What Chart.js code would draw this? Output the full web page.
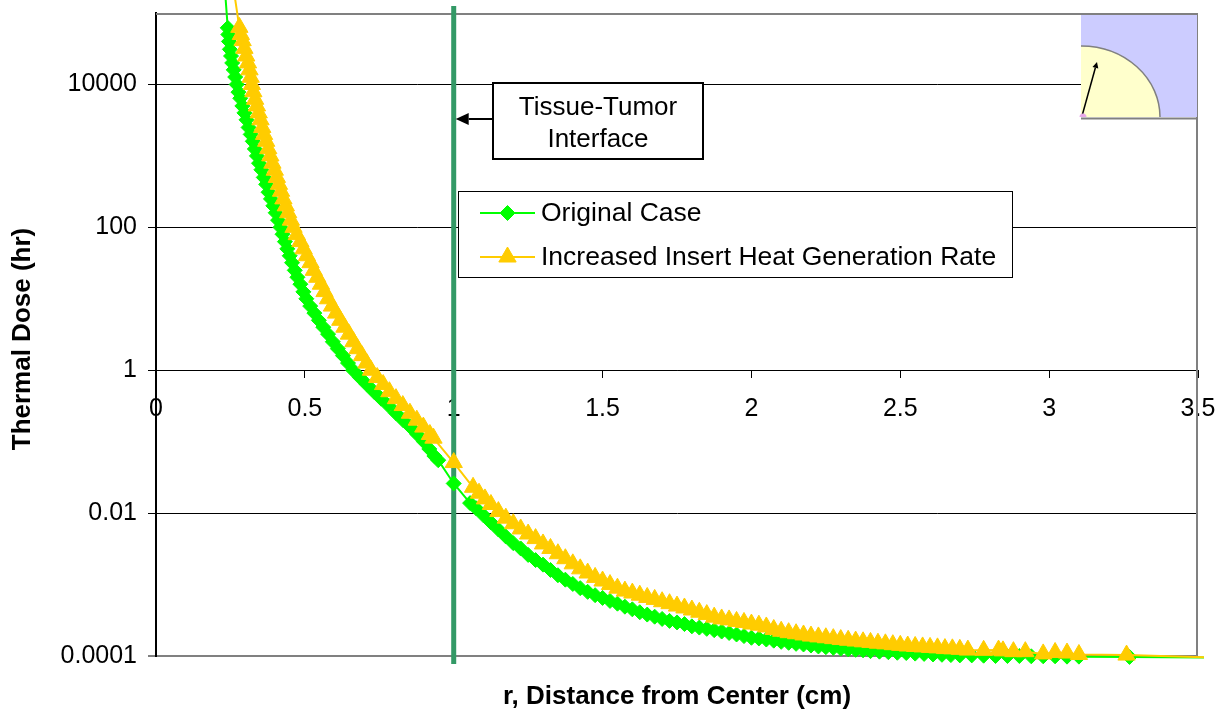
<!DOCTYPE html>
<html>
<head>
<meta charset="utf-8">
<title>Thermal Dose vs. Distance from Center</title>
<script src="https://cdn.jsdelivr.net/npm/chart.js@4"></script>
<style>
  html, body { margin: 0; padding: 0; background: #fff; }
  #chart { display: block; }
</style>
</head>
<body>
<canvas id="chart" width="1230" height="717" style="width:1230px;height:717px"></canvas>
<script>
// Series names
const seriesNames = ['Original Case', 'Increased Insert Heat Generation Rate'];

// [r (cm), thermal dose (hr)] for the original case
const originalCase = [
  [0.232, 2.0e5], [0.241, 6.2e4], [0.243, 5.0e4], [0.245, 4.0e4], [0.248, 3.1e4],
  [0.252, 2.5e4], [0.256, 2.0e4], [0.261, 1.6e4], [0.266, 1.27e4], [0.271, 1.0e4],
  [0.277, 7.8e3], [0.283, 6.4e3], [0.290, 5.0e3], [0.297, 4.0e3], [0.304, 3.2e3],
  [0.311, 2.5e3], [0.318, 2.0e3], [0.325, 1.6e3], [0.332, 1.25e3], [0.339, 1.0e3],
  [0.346, 790], [0.354, 640], [0.362, 500], [0.370, 400], [0.378, 310],
  [0.386, 250], [0.394, 200], [0.402, 160], [0.410, 126], [0.418, 100],
  [0.425, 80], [0.433, 63], [0.441, 50], [0.449, 40], [0.457, 32],
  [0.466, 25], [0.475, 20], [0.485, 16], [0.495, 12.5], [0.505, 10],
  [0.518, 7.9], [0.532, 6.3], [0.547, 5.0], [0.562, 4.0], [0.578, 3.2],
  [0.594, 2.5], [0.611, 2.0], [0.628, 1.6], [0.645, 1.26], [0.662, 1.0],
  [0.685, 0.79], [0.708, 0.63], [0.732, 0.50], [0.756, 0.40], [0.781, 0.32],
  [0.806, 0.25], [0.830, 0.20], [0.855, 0.16], [0.878, 0.126], [0.900, 0.10],
  [0.918, 0.079], [0.935, 0.063], [0.948, 0.055],
  [1.000, 0.026],
  [1.055, 0.0138], [1.075, 0.0117], [1.100, 0.0093], [1.125, 0.0074], [1.150, 0.0059],
  [1.175, 0.0047], [1.200, 0.0038], [1.225, 0.0032], [1.250, 0.0026], [1.275, 0.0022],
  [1.300, 0.0019], [1.325, 0.0016], [1.350, 0.00135], [1.375, 0.00117], [1.400, 0.00102],
  [1.425, 0.00089], [1.450, 0.00079], [1.475, 0.00071], [1.500, 0.00065], [1.525, 0.00059],
  [1.550, 0.00054], [1.575, 0.00049], [1.600, 0.00045], [1.625, 0.00041], [1.650, 0.00038],
  [1.675, 0.000355], [1.700, 0.00033], [1.725, 0.00031], [1.750, 0.000295], [1.775, 0.00028],
  [1.800, 0.00026], [1.825, 0.00025], [1.850, 0.00024], [1.875, 0.00023], [1.900, 0.00022],
  [1.925, 0.00021], [1.950, 0.00020], [1.975, 0.00019], [2.000, 0.00018], [2.025, 0.000176],
  [2.050, 0.00017], [2.075, 0.000164], [2.100, 0.000158], [2.125, 0.000153], [2.150, 0.000148],
  [2.175, 0.000145], [2.200, 0.00014], [2.225, 0.000136], [2.250, 0.000133], [2.275, 0.00013],
  [2.300, 0.000127], [2.325, 0.000124], [2.350, 0.000122], [2.375, 0.00012], [2.400, 0.000117],
  [2.430, 0.000115], [2.460, 0.000113], [2.490, 0.000111], [2.520, 0.00011], [2.550, 0.000108],
  [2.580, 0.000107], [2.610, 0.000105], [2.640, 0.000104], [2.670, 0.000103], [2.700, 0.000102],
  [2.740, 0.000102], [2.780, 0.000101], [2.820, 0.0001], [2.860, 0.0001], [2.900, 0.0001],
  [2.940, 0.000099], [2.980, 0.000099], [3.020, 0.000099], [3.060, 0.000098], [3.100, 0.000098],
  [3.270, 0.000097], [3.520, 0.000095]
];

// [r (cm), thermal dose (hr)] with the increased insert heat generation rate
const increasedRate = [
  [0.262, 2.0e5], [0.280, 6.3e4], [0.285, 5.0e4], [0.291, 4.1e4], [0.297, 3.2e4],
  [0.303, 2.5e4], [0.309, 2.0e4], [0.314, 1.6e4], [0.318, 1.26e4], [0.322, 1.0e4],
  [0.327, 7.9e3], [0.333, 6.2e3], [0.339, 5.0e3], [0.345, 4.0e3], [0.351, 3.2e3],
  [0.357, 2.5e3], [0.363, 2.0e3], [0.370, 1.6e3], [0.377, 1.26e3], [0.384, 1.0e3],
  [0.391, 790], [0.399, 630], [0.406, 500], [0.413, 400], [0.420, 320],
  [0.428, 250], [0.436, 200], [0.444, 160], [0.453, 126], [0.462, 100],
  [0.473, 79], [0.485, 63], [0.496, 50], [0.507, 40], [0.519, 32],
  [0.530, 25], [0.542, 20], [0.554, 16], [0.566, 12.6], [0.578, 10],
  [0.591, 7.9], [0.605, 6.3], [0.619, 5.0], [0.633, 4.0], [0.648, 3.2],
  [0.663, 2.5], [0.677, 2.0], [0.692, 1.6], [0.707, 1.26], [0.722, 1.0],
  [0.743, 0.79], [0.763, 0.63], [0.784, 0.50], [0.806, 0.40], [0.829, 0.32],
  [0.853, 0.25], [0.876, 0.20], [0.898, 0.16], [0.920, 0.126], [0.932, 0.112],
  [1.000, 0.051],
  [1.065, 0.023], [1.085, 0.019], [1.105, 0.0158], [1.125, 0.0132], [1.150, 0.0105],
  [1.175, 0.0085], [1.200, 0.0071], [1.225, 0.0060], [1.250, 0.0051], [1.275, 0.0044],
  [1.300, 0.0037], [1.325, 0.0032], [1.350, 0.0027], [1.375, 0.0023], [1.400, 0.00195],
  [1.425, 0.00166], [1.450, 0.00145], [1.475, 0.00126], [1.500, 0.00112], [1.525, 0.0010],
  [1.550, 0.00089], [1.575, 0.00081], [1.600, 0.00076], [1.625, 0.00071], [1.650, 0.00066],
  [1.675, 0.00062], [1.700, 0.000575], [1.725, 0.00054], [1.750, 0.0005], [1.775, 0.00047],
  [1.800, 0.00044], [1.825, 0.00041], [1.850, 0.00038], [1.875, 0.00035], [1.900, 0.00033],
  [1.925, 0.00032], [1.950, 0.000305], [1.975, 0.000295], [2.000, 0.00028], [2.025, 0.00027],
  [2.050, 0.000255], [2.075, 0.000235], [2.100, 0.000222], [2.125, 0.000212], [2.150, 0.000205],
  [2.175, 0.000197], [2.200, 0.00019], [2.225, 0.000185], [2.250, 0.00018], [2.275, 0.000175],
  [2.300, 0.00017], [2.325, 0.000166], [2.350, 0.000162], [2.375, 0.000158], [2.400, 0.000155],
  [2.425, 0.000151], [2.450, 0.000148], [2.475, 0.000144], [2.500, 0.000141], [2.525, 0.000138],
  [2.550, 0.000136], [2.575, 0.000134], [2.600, 0.000132], [2.625, 0.00013], [2.650, 0.000127],
  [2.675, 0.000126], [2.700, 0.000124], [2.727, 0.000121], [2.780, 0.00012], [2.830, 0.000121],
  [2.845, 0.000118], [2.880, 0.000115], [2.920, 0.000115], [2.980, 0.000107], [3.020, 0.000112],
  [3.060, 0.00011], [3.100, 0.000105], [3.260, 0.000103], [3.520, 0.000096]
];

// Axis ticks
const yTickValues = [0.0001, 0.01, 1, 100, 10000];
const yTickLabels = ['0.0001', '0.01', '1', '100', '10000'];
const xTickStep = 0.5;

// Radius of the tissue-tumor interface (cm)
const interfaceRadius = 1;

// Axis titles and annotation text
const xTitle = 'r, Distance from Center (cm)';
const yTitle = 'Thermal Dose (hr)';
const interfaceLines = ['Tissue-Tumor', 'Interface'];

const FONT = '"Liberation Sans", Arial, Helvetica, sans-serif';
Chart.defaults.font.family = FONT;
Chart.defaults.color = '#000';

const toPoints = rows => rows.map(([x, y]) => ({ x, y }));

const styles = [
  { color: '#00ff00', pointStyle: 'rectRot', radius: 7.5 },
  { color: '#ffcc00', pointStyle: 'triangle', radius: 10 }
];

function drawMarker(ctx, style, x, y) {
  ctx.save();
  ctx.fillStyle = style.color;
  ctx.strokeStyle = style.color;
  ctx.lineWidth = 1;
  ctx.beginPath();
  const r = style.radius;
  if (style.pointStyle === 'rectRot') {
    ctx.moveTo(x, y - r); ctx.lineTo(x + r, y); ctx.lineTo(x, y + r); ctx.lineTo(x - r, y);
  } else {
    const h = r * Math.sqrt(3) / 2;
    ctx.moveTo(x, y - r); ctx.lineTo(x + h, y + r / 2); ctx.lineTo(x - h, y + r / 2);
  }
  ctx.closePath();
  ctx.fill();
  ctx.stroke();
  ctx.restore();
}

function arrow(ctx, x1, y1, x2, y2, head, half) {
  const ang = Math.atan2(y2 - y1, x2 - x1);
  const bx = x2 - Math.cos(ang) * head, by = y2 - Math.sin(ang) * head;
  ctx.beginPath();
  ctx.moveTo(x1, y1); ctx.lineTo(bx, by); ctx.stroke();
  ctx.beginPath();
  ctx.moveTo(x2, y2);
  ctx.lineTo(bx + Math.sin(ang) * half, by - Math.cos(ang) * half);
  ctx.lineTo(bx - Math.sin(ang) * half, by + Math.cos(ang) * half);
  ctx.closePath();
  ctx.fill();
}

const decorations = {
  id: 'decorations',
  beforeDatasetsDraw(chart) {
    const { ctx, chartArea: a, scales: { x } } = chart;
    ctx.save();
    // top and right edges of the plot frame
    ctx.strokeStyle = '#808080';
    ctx.lineWidth = 2;
    ctx.beginPath();
    ctx.moveTo(a.left, a.top + 1);
    ctx.lineTo(a.right - 1, a.top + 1);
    ctx.lineTo(a.right - 1, a.bottom);
    ctx.stroke();
    // tissue-tumor interface
    const xi = x.getPixelForValue(interfaceRadius);
    ctx.strokeStyle = '#339966';
    ctx.lineWidth = 5;
    ctx.beginPath();
    ctx.moveTo(xi, 6);
    ctx.lineTo(xi, 664);
    ctx.stroke();
    ctx.restore();
  },
  afterDraw(chart) {
    const { ctx, chartArea: a, scales: { x } } = chart;
    ctx.save();

    // geometry sketch in the upper right corner
    const sx = 1081, sy = 117, sr = a.right - 1;
    ctx.fillStyle = '#ccccff';
    ctx.fillRect(sx, a.top + 2, sr - sx, sy - a.top - 2);
    ctx.beginPath();
    ctx.moveTo(sx, sy);
    ctx.lineTo(sx + 79, sy);
    ctx.ellipse(sx, sy, 79, 71, 0, 0, -Math.PI / 2, true);
    ctx.closePath();
    ctx.fillStyle = '#ffffcc';
    ctx.fill();
    ctx.beginPath();
    ctx.ellipse(sx, sy, 79, 71, 0, 0, -Math.PI / 2, true);
    ctx.strokeStyle = '#808080';
    ctx.lineWidth = 1.5;
    ctx.stroke();
    ctx.beginPath();
    ctx.moveTo(sx, sy + 1.5);
    ctx.lineTo(sr + 1, sy + 1.5);
    ctx.lineWidth = 2;
    ctx.stroke();
    ctx.strokeStyle = '#000';
    ctx.fillStyle = '#000';
    ctx.lineWidth = 1.5;
    arrow(ctx, sx + 1, sy - 1, sx + 16, sy - 55, 6, 3);
    ctx.beginPath();
    ctx.arc(sx + 2, sy, 3.5, Math.PI, 0);
    ctx.closePath();
    ctx.fillStyle = '#e8a8e8';
    ctx.fill();

    // interface annotation
    const xi = x.getPixelForValue(interfaceRadius);
    ctx.fillStyle = '#fff';
    ctx.fillRect(493, 83, 210, 76);
    ctx.strokeStyle = '#000';
    ctx.lineWidth = 2;
    ctx.strokeRect(493, 83, 210, 76);
    ctx.fillStyle = '#000';
    ctx.font = '26px ' + FONT;
    ctx.textAlign = 'center';
    ctx.textBaseline = 'middle';
    ctx.fillText(interfaceLines[0], 598, 108);
    ctx.fillText(interfaceLines[1], 598, 140);
    ctx.lineWidth = 2;
    arrow(ctx, 493, 119, xi + 2, 119, 13, 6);

    // legend
    ctx.fillStyle = '#fff';
    ctx.fillRect(458, 191, 555, 87);
    ctx.strokeStyle = '#000';
    ctx.lineWidth = 1;
    ctx.strokeRect(458.5, 191.5, 554, 86);
    const rows = [213, 257];
    chart.data.datasets.forEach((ds, i) => {
      const y = rows[i];
      ctx.strokeStyle = ds.borderColor;
      ctx.lineWidth = 2;
      ctx.beginPath();
      ctx.moveTo(480, y);
      ctx.lineTo(535, y);
      ctx.stroke();
      drawMarker(ctx, styles[i], 507.5, y);
      ctx.fillStyle = '#000';
      ctx.font = '26.5px ' + FONT;
      ctx.textAlign = 'left';
      ctx.textBaseline = 'middle';
      ctx.fillText(ds.label, 541, y + 1);
    });

    // axis titles
    ctx.fillStyle = '#000';
    ctx.font = 'bold 26px ' + FONT;
    ctx.textAlign = 'center';
    ctx.textBaseline = 'middle';
    ctx.fillText(xTitle, (a.left + a.right) / 2, 697);
    ctx.translate(23, 339);
    ctx.rotate(-Math.PI / 2);
    ctx.fillText(yTitle, 0, 0);
    ctx.restore();
  }
};

const datasets = [originalCase, increasedRate].map((rows, i) => ({
  label: seriesNames[i],
  data: toPoints(rows),
  showLine: true,
  borderColor: styles[i].color,
  backgroundColor: styles[i].color,
  borderWidth: 2,
  pointStyle: styles[i].pointStyle,
  // the trailing point beyond the axis end only carries the line
  pointRadius: c => (c.raw && c.raw.x > 3.5 ? 0 : styles[i].radius),
  pointBorderWidth: 1,
  pointBorderColor: styles[i].color,
  pointBackgroundColor: styles[i].color,
  tension: 0,
  clip: false,
  order: 2 - i
}));

new Chart(document.getElementById('chart'), {
  type: 'scatter',
  data: { datasets },
  options: {
    responsive: false,
    animation: false,
    devicePixelRatio: 1,
    events: [],
    layout: { padding: { left: 56, top: 13, right: 32, bottom: 61 } },
    plugins: { legend: { display: false }, tooltip: { enabled: false } },
    scales: {
      x: {
        type: 'linear',
        min: 0,
        max: 3.5,
        position: { y: 1 },
        afterFit: s => { s.height = 0; s.paddingLeft = 0; s.paddingRight = 0; },
        ticks: {
          stepSize: xTickStep,
          autoSkip: false,
          maxRotation: 0,
          padding: 17,
          font: { size: 25 },
          color: '#000',
          callback: v => String(v)
        },
        grid: { drawOnChartArea: false, drawTicks: true, tickLength: 7, color: '#000', lineWidth: 1 },
        border: { display: true, color: '#000', width: 1 }
      },
      y: {
        type: 'logarithmic',
        min: 0.0001,
        max: 100000,
        afterFit: s => { s.width = 100; s.paddingTop = 0; s.paddingBottom = 0; },
        afterBuildTicks: s => { s.ticks = yTickValues.map(v => ({ value: v })); },
        ticks: {
          callback: v => { const k = yTickValues.indexOf(v); return k >= 0 ? yTickLabels[k] : ''; },
          padding: 11,
          font: { size: 25 },
          color: '#000'
        },
        grid: {
          color: c => (c.tick && c.tick.value === 0.0001 ? '#808080' : '#000'),
          lineWidth: c => (c.tick && c.tick.value === 0.0001 ? 2 : 1),
          tickColor: '#000',
          tickWidth: 1,
          tickLength: 8
        },
        border: { display: true, color: '#000', width: 2 }
      }
    }
  },
  plugins: [decorations]
});
</script>
</body>
</html>
